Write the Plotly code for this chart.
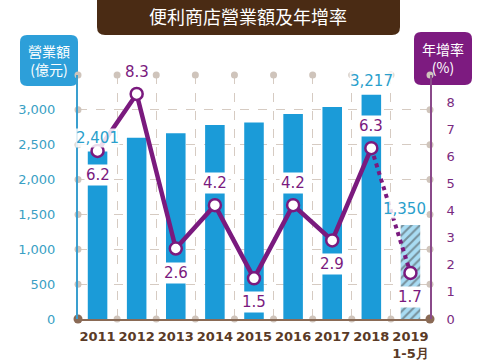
import plotly.graph_objects as go

years = ["2011", "2012", "2013", "2014", "2015", "2016", "2017", "2018", "2019<br>1-5月"]
revenue = [2401, 2600, 2663, 2782, 2820, 2940, 3040, 3217, 1350]
growth = [6.2, 8.3, 2.6, 4.2, 1.5, 4.2, 2.9, 6.3, 1.7]
growth_label_pos = ["below", "above", "below", "above", "below", "above", "below", "above", "below"]
revenue_labels = {0: "2,401", 7: "3,217", 8: "1,350"}
left_ticks = [0, 500, 1000, 1500, 2000, 2500, 3000, 3500]
right_ticks = [0, 1, 2, 3, 4, 5, 6, 7, 8]

W, H = 500, 360
L, R, T, B = 78, 70, 75, 41
pw, ph = W - L - R, H - T - B

def px(x):
    return (x - L) / pw

def py(y):
    return (H - B - y) / ph

BLUE = "#1b9bd8"
PURPLE = "#7a1a7e"
BROWN = "#4a2b14"
GRID = "#d6cbc2"
CJK = "Noto Sans CJK TC"
NUM = "DejaVu Sans"

n = len(years)
xs = list(range(n))

fig = go.Figure()

colors = [BLUE] * (n - 1) + ["#a9dcf3"]
patterns = [""] * (n - 1) + ["/"]
fig.add_trace(go.Bar(
    x=xs, y=revenue, width=0.5,
    marker=dict(color=colors, line=dict(width=0),
                pattern=dict(shape=patterns, fgcolor=BLUE, bgcolor="#a9dcf3", size=6, solidity=0.35)),
    yaxis="y", hoverinfo="skip", showlegend=False,
))

bounds = [i + 0.5 for i in range(-1, n)]
fig.add_trace(go.Scatter(
    x=[-0.5] * (len(left_ticks) - 1) + [n - 0.5] * (len(left_ticks) - 1) + bounds[1:-1] + bounds[1:-1],
    y=left_ticks[1:] + left_ticks[1:] + [3500] * (n - 1) + [0] * (n - 1),
    mode="markers", marker=dict(size=7, color="#cfc4bb"), cliponaxis=False,
    hoverinfo="skip", showlegend=False, yaxis="y",
))
fig.add_trace(go.Scatter(
    x=[-0.5, n - 0.5], y=[0, 0], mode="markers",
    marker=dict(size=9, color="#8a6a55"), cliponaxis=False,
    hoverinfo="skip", showlegend=False, yaxis="y",
))

fig.add_trace(go.Scatter(
    x=xs[-2:], y=growth[-2:], yaxis="y2", mode="lines",
    line=dict(color=PURPLE, width=4, dash="dot"),
    hoverinfo="skip", showlegend=False,
))
fig.add_trace(go.Scatter(
    x=xs[:-1], y=growth[:-1], yaxis="y2", mode="lines",
    line=dict(color=PURPLE, width=4.5),
    hoverinfo="skip", showlegend=False,
))
fig.add_trace(go.Scatter(
    x=xs, y=growth, yaxis="y2", mode="markers",
    marker=dict(size=12, color="white", line=dict(color=PURPLE, width=2.5)),
    hoverinfo="skip", showlegend=False, cliponaxis=False,
))

for i, (g, pos) in enumerate(zip(growth, growth_label_pos)):
    fig.add_annotation(
        x=xs[i], y=g, xref="x", yref="y2", text=f"{g}",
        showarrow=False, yshift=(22 if pos == "above" else -24),
        font=dict(family=NUM, size=15, color=PURPLE),
        bgcolor="white", borderpad=1,
    )

for i, txt in revenue_labels.items():
    fig.add_annotation(
        x=xs[i], y=revenue[i], xref="x", yref="y", text=txt,
        showarrow=False, yshift=14 if i != 8 else 16, xshift=0 if i != 8 else -6,
        font=dict(family=NUM, size=15, color="#2a9fcc"),
        bgcolor="rgba(255,255,255,0.85)", borderpad=0,
    )

def rounded(x0, y0, x1, y1, r):
    X = lambda v: px(v)
    Y = lambda v: py(v)
    return (f"M {X(x0 + r)},{Y(y0)} L {X(x1 - r)},{Y(y0)} Q {X(x1)},{Y(y0)} {X(x1)},{Y(y0 + r)} "
            f"L {X(x1)},{Y(y1 - r)} Q {X(x1)},{Y(y1)} {X(x1 - r)},{Y(y1)} "
            f"L {X(x0 + r)},{Y(y1)} Q {X(x0)},{Y(y1)} {X(x0)},{Y(y1 - r)} "
            f"L {X(x0)},{Y(y0 + r)} Q {X(x0)},{Y(y0)} {X(x0 + r)},{Y(y0)} Z")

shapes = [
    dict(type="path", xref="paper", yref="paper", path=rounded(97, -10, 400, 35, 8),
         fillcolor=BROWN, line=dict(width=0), layer="below"),
    dict(type="path", xref="paper", yref="paper", path=rounded(20, 35, 78, 86, 7),
         fillcolor="#2d9fd9", line=dict(width=0), layer="below"),
    dict(type="path", xref="paper", yref="paper", path=rounded(414, 32, 472, 85, 7),
         fillcolor="#7d1b80", line=dict(width=0), layer="below"),
]

for tx, ty, txt, size in [(248, 16, "便利商店營業額及年增率", 18),
                          (49, 60, "營業額<br>(億元)", 14),
                          (443, 58, "年增率<br>(%)", 14)]:
    fig.add_annotation(xref="paper", yref="paper", x=px(tx), y=py(ty), text=txt,
                       xanchor="center", yanchor="middle", showarrow=False,
                       font=dict(family=CJK, size=size, color="white"))

fig.update_layout(
    width=W, height=H,
    margin=dict(l=L, r=R, t=T, b=B),
    plot_bgcolor="rgba(0,0,0,0)", paper_bgcolor="white",
    showlegend=False, shapes=shapes,
    xaxis=dict(
        range=[-0.5, n - 0.5], tickvals=xs, ticktext=years, automargin=False,
        showgrid=False, zeroline=False,
        showline=True, linecolor="#8a6a55", linewidth=2,
        tickfont=dict(family=NUM, size=13, color="#5a3a26", weight="bold"),
        ticks="", ticklabelstandoff=4,
        minor=dict(tickmode="array", tickvals=bounds[1:-1], showgrid=True,
                   gridcolor=GRID, griddash="dash", gridwidth=1.2, ticks=""),
    ),
    yaxis=dict(
        range=[0, 3500], tickvals=left_ticks, automargin=False,
        ticktext=[f"{v:,}" if v < 3500 else "" for v in left_ticks],
        showgrid=True, gridcolor=GRID, griddash="dash", gridwidth=1.2,
        zeroline=False, showline=True, linecolor="#3a9fcf", linewidth=2,
        tickfont=dict(family=NUM, size=13, color="#3a9fc4"),
        ticks="", ticklabelstandoff=18,
    ),
    yaxis2=dict(
        range=[0, 9], tickvals=right_ticks, overlaying="y", side="right", automargin=False,
        showgrid=False, zeroline=False, showline=True, linecolor="#8a4a8a", linewidth=2,
        tickfont=dict(family=NUM, size=13, color="#7a2a80"),
        ticks="", ticklabelstandoff=12,
    ),
)

fig.write_html("out.html", config={"displayModeBar": False},
               post_script="document.body.style.margin='0';document.body.style.overflow='hidden';")
